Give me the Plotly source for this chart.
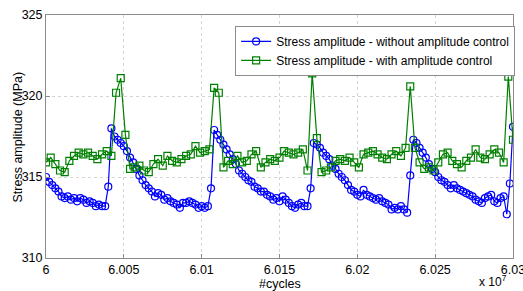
import numpy as np
import plotly.graph_objects as go

# x in units of 10^7 cycles
blue_start, blue_step = 6.0, 0.0002
green_start, green_step = 6.0, 0.0003

stress_without = [
    315.0, 314.7, 314.5, 314.3, 314.1, 313.8, 313.7, 313.8, 313.6, 313.7,
    313.5, 313.7, 313.6, 313.4, 313.5, 313.4, 313.2, 313.3, 313.2, 313.2,
    314.4, 318.0, 317.5, 317.3, 317.1, 316.9, 316.6, 316.2, 315.9, 315.5,
    315.1, 314.8, 314.5, 314.3, 314.1, 313.8, 314.0, 313.9, 313.6, 313.7,
    313.5, 313.4, 313.3, 313.1, 313.4, 313.4, 313.5, 313.4, 313.3, 313.1,
    313.2, 313.1, 313.2, 314.3, 317.9, 317.6, 317.3, 317.0, 316.7, 316.4,
    316.1, 315.8, 315.4, 315.2, 315.0, 314.8, 314.7, 314.4, 314.3, 314.1,
    314.1, 313.9, 313.8, 313.6, 313.7, 313.5, 313.8, 313.6, 313.4, 313.2,
    313.1, 313.3, 313.4, 313.2, 313.2, 314.3, 317.1, 317.0, 316.8, 316.5,
    316.3, 316.1, 315.7, 315.5, 315.2, 315.0, 314.8, 314.5, 314.2, 314.1,
    313.9, 313.8, 314.2, 313.9, 313.8, 313.7, 313.6, 313.7, 313.5, 313.4,
    313.3, 313.0, 313.1, 313.0, 313.2, 313.0, 312.8, 315.1, 317.3, 317.1,
    316.8, 316.5, 316.2, 315.8, 315.5, 315.3, 315.0, 314.8, 314.7, 314.5,
    314.3, 314.5, 314.3, 314.2, 314.1, 314.0, 313.9, 313.8, 313.6, 313.5,
    313.4, 313.7, 313.8, 313.9, 313.5, 313.4, 313.7, 313.8, 312.7, 314.6,
    318.1,
]

stress_with = [
    315.9, 316.2, 315.8, 315.4, 315.3, 316.0, 316.3, 316.5, 316.4, 316.5,
    316.3, 316.1, 316.4, 316.6, 316.3, 320.2, 321.1, 317.6, 315.5, 315.6,
    315.7, 315.4, 315.3, 315.8, 316.1, 315.7, 316.3, 316.0, 315.9, 316.1,
    316.3, 316.4, 316.9, 316.5, 316.6, 316.7, 320.5, 320.2, 315.6, 316.0,
    315.8, 316.3, 315.9, 316.0, 316.4, 316.6, 315.6, 315.9, 316.1, 316.0,
    316.2, 316.6, 316.5, 316.4, 316.5, 316.7, 315.4, 321.4, 317.4, 315.3,
    315.4, 315.6, 316.0, 316.1, 316.0, 316.2, 315.9, 315.6, 316.4, 316.5,
    316.6, 316.4, 316.2, 316.1, 316.4, 316.6, 316.3, 316.8, 320.6, 316.8,
    315.9, 315.5, 315.6, 315.4, 315.9, 316.4, 316.5, 316.0, 315.8, 315.6,
    316.0, 316.2, 316.7, 316.2, 316.1, 316.4, 316.7, 316.5, 315.9, 321.2,
    317.3,
]

x_ticks = [6.0, 6.005, 6.01, 6.015, 6.02, 6.025, 6.03]
x_tick_text = ["6", "6.005", "6.01", "6.015", "6.02", "6.025", "6.03"]
y_ticks = [310, 315, 320, 325]

x_blue = blue_start + blue_step * np.arange(len(stress_without))
x_green = green_start + green_step * np.arange(len(stress_with))

FONT = "Liberation Sans, Arial, sans-serif"

fig = go.Figure()
fig.add_trace(go.Scatter(
    x=x_blue, y=stress_without, mode="lines+markers",
    name="Stress amplitude - without amplitude control",
    line=dict(color="#0000ff", width=1.2),
    marker=dict(symbol="circle-open", size=7, color="#0000ff", line=dict(width=1.2)),
))
fig.add_trace(go.Scatter(
    x=x_green, y=stress_with, mode="lines+markers",
    name="Stress amplitude - with amplitude control",
    line=dict(color="#008000", width=1.2),
    marker=dict(symbol="square-open", size=7, color="#008000", line=dict(width=1.2)),
))

axis_common = dict(
    showline=True, linecolor="#8c8c8c", linewidth=1, mirror=True,
    showgrid=True, gridcolor="#d4d4d4", griddash="dot", gridwidth=1,
    zeroline=False, ticks="inside", ticklen=4, tickcolor="#8c8c8c",
    tickfont=dict(family=FONT, size=12.5, color="#000"),
    automargin=False, ticklabeloverflow="allow",
)

fig.update_layout(
    width=523, height=291,
    margin=dict(l=46, r=10, t=15, b=33, autoexpand=False),
    paper_bgcolor="white", plot_bgcolor="white",
    font=dict(family=FONT, size=13, color="#000"),
    xaxis=dict(range=[5.999999, 6.030001], tickvals=x_ticks, ticktext=x_tick_text, **axis_common),
    yaxis=dict(range=[310, 325], tickvals=y_ticks, **axis_common),
    legend=dict(x=0.405, y=0.955, xanchor="left", yanchor="top",
                bgcolor="white", bordercolor="#8c8c8c", borderwidth=1,
                font=dict(family=FONT, size=12), tracegroupgap=0, itemwidth=30),
    showlegend=True,
)
fig.add_annotation(text="#cycles", xref="paper", yref="paper",
                   x=0.501, y=-0.106, xanchor="center", yanchor="middle",
                   showarrow=False, font=dict(family=FONT, size=12.5))
fig.add_annotation(text="Stress amplitude (MPa)", xref="paper", yref="paper",
                   x=-0.06, y=0.5, xanchor="center", yanchor="middle", textangle=-90,
                   showarrow=False, font=dict(family=FONT, size=12.5))
fig.add_annotation(text="x 10<sup>7</sup>", xref="paper", yref="paper",
                   x=0.992, y=-0.1358, xanchor="right", yanchor="bottom",
                   showarrow=False, font=dict(family=FONT, size=12))

fig.write_html("out.html", config={"displayModeBar": False},
               post_script="document.body.style.margin='0';document.body.style.overflow='hidden';")
